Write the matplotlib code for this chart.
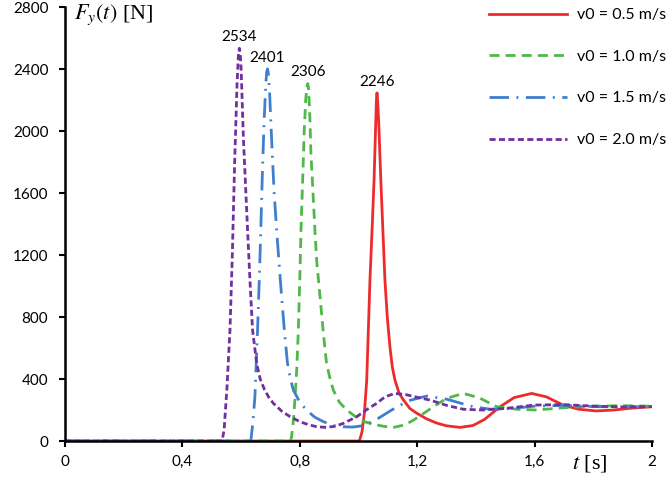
import numpy as np
import matplotlib
matplotlib.use("Agg")
import matplotlib.pyplot as plt
from matplotlib.ticker import FuncFormatter

plt.rcParams['font.family'] = ['Lato', 'DejaVu Sans']
plt.rcParams['mathtext.fontset'] = 'stix'

# v0 = 0.5 m/s
t_05 = [0, 1.003, 1.012, 1.02, 1.028, 1.039, 1.047, 1.053, 1.058, 1.061, 1.063, 1.065, 1.069,
        1.076, 1.083, 1.09, 1.098, 1.107, 1.115, 1.124, 1.138, 1.153, 1.175, 1.198, 1.23,
        1.266, 1.3, 1.346, 1.39, 1.43, 1.482, 1.53, 1.59, 1.64, 1.697, 1.75, 1.81, 1.87,
        1.93, 2.0]
F_05 = [0, 0, 60, 180, 394, 1039, 1400, 1684, 2010, 2200, 2246, 2200, 2050,
        1684, 1360, 1039, 800, 608, 480, 394, 310, 265, 210, 180, 145,
        116, 98, 88, 100, 140, 221, 280, 307, 285, 232, 205, 194, 200,
        212, 221]

# v0 = 1.0 m/s
t_10 = [0, 0.768, 0.772, 0.778, 0.784, 0.79, 0.795, 0.8, 0.804, 0.81, 0.815, 0.82, 0.824,
        0.827, 0.830, 0.834, 0.838, 0.845, 0.852, 0.858, 0.869, 0.88, 0.891, 0.902, 0.914,
        0.935, 0.96, 1.005, 1.045, 1.085, 1.12, 1.16, 1.2, 1.255, 1.3, 1.357, 1.41, 1.471,
        1.54, 1.607, 1.7, 1.8, 1.9, 2.0]
F_10 = [0, 0, 28, 130, 286, 480, 716, 1050, 1361, 1700, 2000, 2200, 2280,
        2306, 2270, 2100, 1850, 1600, 1340, 1150, 931, 700, 501, 410, 329,
        250, 200, 135, 110, 95, 88, 105, 150, 221, 275, 307, 280, 221,
        205, 200, 215, 225, 228, 225]

# v0 = 1.5 m/s
t_15 = [0, 0.633, 0.64, 0.647, 0.656, 0.662, 0.667, 0.672, 0.678, 0.684, 0.687, 0.69,
        0.693, 0.697, 0.704, 0.712, 0.721, 0.73, 0.738, 0.748, 0.758, 0.768, 0.778, 0.8,
        0.823, 0.85, 0.88, 0.915, 0.948, 0.98, 1.02, 1.062, 1.113, 1.17, 1.232, 1.3, 1.391,
        1.45, 1.52, 1.6, 1.7, 1.8, 1.9, 2.0]
F_15 = [0, 0, 120, 286, 716, 1050, 1361, 1700, 2050, 2300, 2380, 2401,
        2370, 2250, 1942, 1620, 1361, 1130, 931, 700, 501, 400, 329, 250,
        200, 155, 125, 100, 92, 90, 100, 140, 200, 260, 290, 270, 221,
        205, 210, 225, 230, 222, 220, 222]

# v0 = 2.0 m/s
t_20 = [0, 0.535, 0.542, 0.552, 0.562, 0.57, 0.578, 0.586, 0.591, 0.594, 0.597, 0.6,
        0.608, 0.622, 0.63, 0.639, 0.653, 0.665, 0.68, 0.695, 0.71, 0.74, 0.767, 0.8,
        0.83, 0.858, 0.89, 0.92, 0.95, 0.994, 1.03, 1.062, 1.09, 1.124, 1.16, 1.2, 1.244,
        1.3, 1.357, 1.42, 1.5, 1.6, 1.7, 1.8, 1.9, 2.0]
F_20 = [0, 0, 71, 350, 716, 1200, 1800, 2300, 2500, 2534, 2500, 2400,
        1942, 1361, 1039, 716, 501, 400, 330, 280, 243, 190, 157, 125,
        105, 92, 88, 95, 115, 157, 205, 243, 285, 307, 300, 282, 264,
        230, 205, 200, 210, 232, 235, 225, 220, 222]

labels = ['v0 = 0.5 m/s', 'v0 = 1.0 m/s', 'v0 = 1.5 m/s', 'v0 = 2.0 m/s']
colors = ['#ED2B2B', '#4FB848', '#3F7FCB', '#7030A0']
styles = ['-', (0, (3.6, 2.2)), (0, (7, 2.7, 0.7, 2.7)), (0, (2.2, 1.2))]
series = [(t_05, F_05), (t_10, F_10), (t_15, F_15), (t_20, F_20)]

fig = plt.figure(figsize=(6.67, 4.84), dpi=100)
ax = fig.add_axes([0.0975, 0.0888, 0.88, 0.8967])

for (t, F), lab, c, ls in zip(series, labels, colors, styles):
    ax.plot(t, F, color=c, linestyle=ls, linewidth=2.0, label=lab)
    i = int(np.argmax(F))
    ax.annotate(str(F[i]), xy=(t[i], F[i]), xytext=(0, 3), textcoords='offset points',
                ha='center', va='bottom', fontsize=11)

ax.set_xlim(0, 2)
ax.set_ylim(0, 2800)
ax.set_xticks(np.arange(0, 2.01, 0.4))
ax.set_yticks(np.arange(0, 2801, 400))
ax.xaxis.set_major_formatter(FuncFormatter(lambda v, p: ('%g' % round(v, 1)).replace('.', ',')))
ax.tick_params(direction='out', length=4, width=1.5, labelsize=11, pad=6, colors='black')
ax.tick_params(axis='y', pad=8)
for s in ['top', 'right']:
    ax.spines[s].set_visible(False)
for s in ['left', 'bottom']:
    ax.spines[s].set_linewidth(1.8)

fig.text(74 / 667, 1 - 15 / 484, r'$F_y(t)$ [N]', fontsize=16, family='Liberation Serif',
         ha='left', va='center')
fig.text(572 / 667, 1 - 463 / 484, r'$t$ [s]', fontsize=16, family='Liberation Serif',
         ha='left', va='center')

ax.legend(loc='upper left', bbox_to_anchor=(489 / 667, 1 - 8 / 484),
          bbox_transform=fig.transFigure, frameon=False, fontsize=11.5,
          handlelength=4.9, handletextpad=0.6, labelspacing=1.72,
          borderpad=0, borderaxespad=0)

fig.savefig('out.png', dpi=100)
